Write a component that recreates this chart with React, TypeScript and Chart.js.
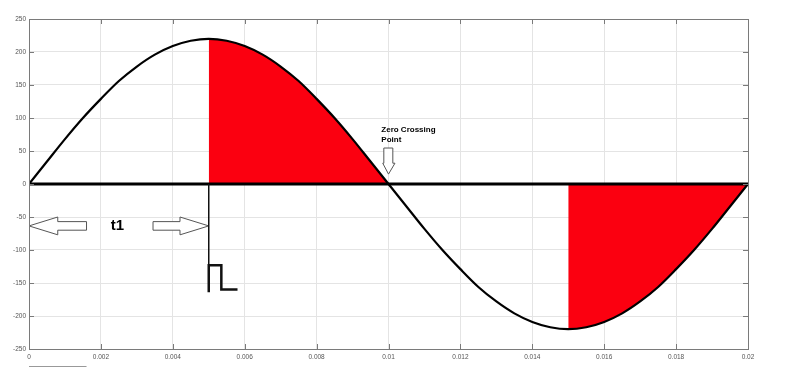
import React, { useEffect, useRef } from "react";
import { Chart, registerables } from "chart.js";

Chart.register(...registerables);

// Time (s) and voltage (V) samples
const timeS = [
  0, 0.0005, 0.001, 0.0015, 0.002, 0.0025, 0.003, 0.0035, 0.004, 0.0045,
  0.005, 0.0055, 0.006, 0.0065, 0.007, 0.0075, 0.008, 0.0085, 0.009, 0.0095,
  0.01, 0.0105, 0.011, 0.0115, 0.012, 0.0125, 0.013, 0.0135, 0.014, 0.0145,
  0.015, 0.0155, 0.016, 0.0165, 0.017, 0.0175, 0.018, 0.0185, 0.019, 0.0195,
  0.02,
];
const voltage = [
  0, 34, 68, 100, 129, 156, 178, 196, 209, 217,
  220, 217, 209, 196, 178, 156, 129, 100, 68, 34,
  0, -34, -68, -100, -129, -156, -178, -196, -209, -217,
  -220, -217, -209, -196, -178, -156, -129, -100, -68, -34,
  0,
];
// Shaded intervals (conduction after firing at t1)
const shadedRanges = [
  [0.005, 0.01],
  [0.015, 0.02],
];
const xTickStep = 0.002;
const yTickStep = 50;
const yMin = -250;
const yMax = 250;

// Annotation shapes in data units
const leftArrow = [
  [0, -63.5], [0.0008, -50], [0.0008, -57], [0.0016, -57],
  [0.0016, -70], [0.0008, -70], [0.0008, -77],
];
const rightArrow = [
  [0.005, -63.5], [0.0042, -50], [0.0042, -57], [0.00345, -57],
  [0.00345, -70], [0.0042, -70], [0.0042, -77],
];
const downArrow = [
  [0.01, 15], [0.00984, 31.5], [0.00987, 31.5], [0.00987, 54.5],
  [0.01012, 54.5], [0.01012, 31.5], [0.01018, 31.5],
];
const firingLine = [[0.005, 0], [0.005, -123]];
const pulse = [
  [0.005, -164], [0.005, -123], [0.00535, -123], [0.00535, -160], [0.0058, -160],
];
const t1Label = { text: "t1", x: 0.00246, y: -63.5 };
const zeroLabel = { lines: ["Zero Crossing", "Point"], x: 0.0098, y: 82, dy: 15 };

const annotationPlugin = {
  id: "annotations",
  afterDatasetsDraw(chart: any) {
    const { ctx, chartArea, scales } = chart;
    const xs = scales.x;
    const ys = scales.y;
    const px = (v: number) => xs.getPixelForValue(v);
    const py = (v: number) => ys.getPixelForValue(v);
    ctx.save();
    // zero line
    ctx.strokeStyle = "#000";
    ctx.lineWidth = 3;
    ctx.beginPath();
    ctx.moveTo(chartArea.left, py(0));
    ctx.lineTo(chartArea.right, py(0));
    ctx.stroke();

    const poly = (pts: number[][]) => {
      ctx.beginPath();
      pts.forEach((p, i) => {
        const X = px(p[0]);
        const Y = py(p[1]);
        if (i === 0) ctx.moveTo(X, Y);
        else ctx.lineTo(X, Y);
      });
    };
    // arrows
    ctx.lineWidth = 1;
    ctx.strokeStyle = "#555";
    ctx.fillStyle = "#fff";
    [leftArrow, rightArrow, downArrow].forEach((a) => {
      poly(a);
      ctx.closePath();
      ctx.fill();
      ctx.stroke();
    });
    // firing line & pulse
    ctx.strokeStyle = "#111";
    ctx.lineWidth = 1.5;
    poly(firingLine);
    ctx.stroke();
    ctx.lineWidth = 2.5;
    ctx.lineJoin = "miter";
    poly(pulse);
    ctx.stroke();
    // texts
    ctx.fillStyle = "#000";
    ctx.font = "bold 15px 'Liberation Sans', Arial, sans-serif";
    ctx.textAlign = "center";
    ctx.textBaseline = "middle";
    ctx.fillText(t1Label.text, px(t1Label.x), py(t1Label.y));
    ctx.font = "bold 8px 'Liberation Sans', Arial, sans-serif";
    ctx.textAlign = "left";
    zeroLabel.lines.forEach((l, i) => {
      ctx.fillText(l, px(zeroLabel.x), py(zeroLabel.y - i * zeroLabel.dy));
    });
    ctx.restore();
  },
  afterDraw(chart: any) {
    const { ctx, chartArea, scales } = chart;
    const { left, right, top, bottom } = chartArea;
    ctx.save();
    ctx.strokeStyle = "#7a7a7a";
    ctx.lineWidth = 1;
    ctx.strokeRect(Math.round(left) + 0.5, Math.round(top) + 0.5, Math.round(right - left), Math.round(bottom - top));
    const tl = 5;
    ctx.beginPath();
    scales.x.ticks.forEach((t: any) => {
      const X = Math.round(scales.x.getPixelForValue(t.value)) + 0.5;
      ctx.moveTo(X, bottom);
      ctx.lineTo(X, bottom - tl);
      ctx.moveTo(X, top);
      ctx.lineTo(X, top + tl);
    });
    scales.y.ticks.forEach((t: any) => {
      const Y = Math.round(scales.y.getPixelForValue(t.value)) + 0.5;
      ctx.moveTo(left, Y);
      ctx.lineTo(left + tl, Y);
      ctx.moveTo(right, Y);
      ctx.lineTo(right - tl, Y);
    });
    ctx.stroke();
    // small stray rule under the axis origin
    ctx.strokeStyle = "#999";
    ctx.beginPath();
    ctx.moveTo(scales.x.getPixelForValue(0), bottom + 17.5);
    ctx.lineTo(scales.x.getPixelForValue(0.0016), bottom + 17.5);
    ctx.stroke();
    ctx.restore();
  },
};

export default function App() {
  const ref = useRef<HTMLCanvasElement>(null);
  useEffect(() => {
    if (!ref.current) return;
    const points = timeS.map((t, i) => ({ x: t, y: voltage[i] }));
    const fills = shadedRanges.map(([a, b]) => ({
      data: points.filter((p) => p.x >= a - 1e-9 && p.x <= b + 1e-9),
      borderWidth: 0,
      borderColor: "rgba(0,0,0,0)",
      backgroundColor: "#fb0010",
      fill: "origin",
      pointRadius: 0,
      cubicInterpolationMode: "monotone",
    }));
    const tickFont = { family: "'Liberation Sans', Arial, sans-serif", size: 6.5 };
    const chart = new Chart(ref.current, {
      type: "line",
      data: {
        datasets: [
          {
            data: points,
            borderColor: "#000",
            borderWidth: 2.2,
            pointRadius: 0,
            fill: false,
            cubicInterpolationMode: "monotone",
          },
          ...fills,
        ] as any,
      },
      options: {
        animation: false,
        responsive: false,
        layout: { padding: { top: 19, right: 61, left: 0, bottom: 0 } },
        plugins: { legend: { display: false }, tooltip: { enabled: false } },
        scales: {
          x: {
            type: "linear",
            min: 0,
            max: 0.02,
            afterFit: (s: any) => { s.height = 28; },
            ticks: {
              stepSize: xTickStep,
              font: tickFont,
              color: "#555",
              padding: 4,
              maxRotation: 0,
              autoSkip: false,
              callback: (v: any) => String(Number(Number(v).toFixed(3))),
            },
            grid: { color: "#e4e4e4", drawTicks: false },
            border: { display: false },
          },
          y: {
            min: yMin,
            max: yMax,
            afterFit: (s: any) => { s.width = 29; },
            ticks: { stepSize: yTickStep, font: tickFont, color: "#555", padding: 3 },
            grid: { color: "#e4e4e4", drawTicks: false },
            border: { display: false },
          },
        },
      } as any,
      plugins: [annotationPlugin],
    });
    return () => chart.destroy();
  }, []);
  return (
    <div style={{ position: "fixed", left: 0, top: 0, width: 809, height: 377, background: "#fff" }}>
      <canvas ref={ref} width={809} height={377} style={{ width: 809, height: 377, display: "block" }} />
    </div>
  );
}
